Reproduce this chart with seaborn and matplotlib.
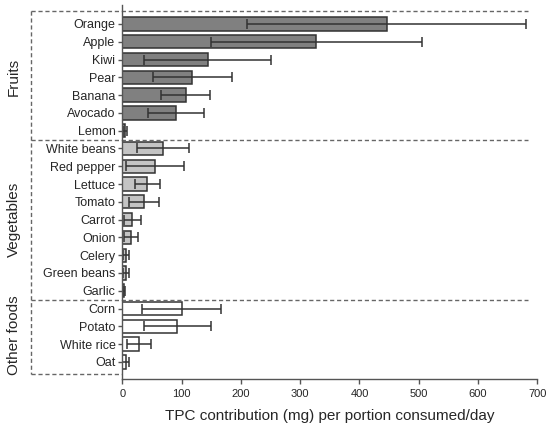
import numpy as np
import pandas as pd
import matplotlib
matplotlib.use("Agg")
import matplotlib.pyplot as plt
import matplotlib.transforms as mtransforms
import seaborn as sns

# -----------------------------
# Data
# -----------------------------
fruits = ["Orange", "Apple", "Kiwi", "Pear", "Banana", "Avocado", "Lemon"]
fruit_vals = [446, 327, 144, 118, 107, 90, 4]
fruit_errs = [235, 178, 107, 67, 41, 47, 3.5]

vegetables = ["White beans", "Red pepper", "Lettuce", "Tomato", "Carrot",
              "Onion", "Celery", "Green beans", "Garlic"]
veg_vals = [69, 55, 42, 37, 17, 14, 6.5, 6.5, 3]
veg_errs = [44, 49, 21, 25, 14, 12, 5, 5, 1.5]

others = ["Corn", "Potato", "White rice", "Oat"]
other_vals = [100, 93, 28.5, 6]
other_errs = [66, 56, 20, 6]

group_names = ["Fruits", "Vegetables", "Other foods"]
group_colors = ["#808080", "#c4c4c4", "#ffffff"]

df = pd.DataFrame({
    "food": fruits + vegetables + others,
    "value": fruit_vals + veg_vals + other_vals,
    "err": fruit_errs + veg_errs + other_errs,
    "group": [group_names[0]] * len(fruits)
             + [group_names[1]] * len(vegetables)
             + [group_names[2]] * len(others),
})

sns.set_style("ticks")
plt.rcParams["font.family"] = ["Liberation Sans", "DejaVu Sans"]

fig = plt.figure(figsize=(5.5, 4.33), dpi=100)
ax = fig.add_axes([0.2224, 0.124, 0.7546, 0.8646])

sns.barplot(data=df, x="value", y="food", hue="group",
            palette=dict(zip(group_names, group_colors)),
            dodge=False, width=0.75, edgecolor="#333333", linewidth=1.1,
            legend=False, ax=ax)

ypos = np.arange(len(df))
ax.errorbar(df["value"], ypos, xerr=df["err"], fmt="none",
            ecolor="#333333", elinewidth=1.1, capsize=3.3, capthick=1.1)

ax.set_xlim(0, 700)
ax.set_xticks(range(0, 701, 100))
ax.set_ylim(19.98, -1.07)
ax.set_ylabel("")
ax.set_xlabel("TPC contribution (mg) per portion consumed/day",
              fontsize=11, labelpad=7)
ax.tick_params(axis="x", labelsize=8, length=3.5, color="#555555", width=1)
ax.tick_params(axis="y", labelsize=9, length=3, color="#555555", width=1, pad=2)
sns.despine(ax=ax)
for side in ["left", "bottom"]:
    ax.spines[side].set_color("#555555")
    ax.spines[side].set_linewidth(1)

# -----------------------------
# Dashed group boxes and group labels
# -----------------------------
trans = mtransforms.blended_transform_factory(ax.transAxes, ax.transData)
sizes = [len(fruits), len(vegetables), len(others)]
bounds = np.concatenate([[0], np.cumsum(sizes)]) - 0.5
box_left, box_right = -0.22, 0.978
top_row, bottom_row = -0.72, bounds[-1] + 0.2
dash = dict(color="#666666", lw=1, ls=(0, (3, 2)), clip_on=False, transform=trans)

ax.plot([box_left, box_right], [top_row, top_row], **dash)
for b in bounds[1:-1]:
    ax.plot([box_left, box_right], [b, b], **dash)
ax.plot([box_left, box_left], [top_row, bottom_row], **dash)
ax.plot([box_left, 0], [bottom_row, bottom_row], **dash)

for name, lo, hi in zip(group_names, bounds[:-1], bounds[1:]):
    ax.text(-0.261, (lo + hi) / 2, name, transform=trans, rotation=90,
            ha="center", va="center", fontsize=11)

fig.savefig("out.png", dpi=100)
